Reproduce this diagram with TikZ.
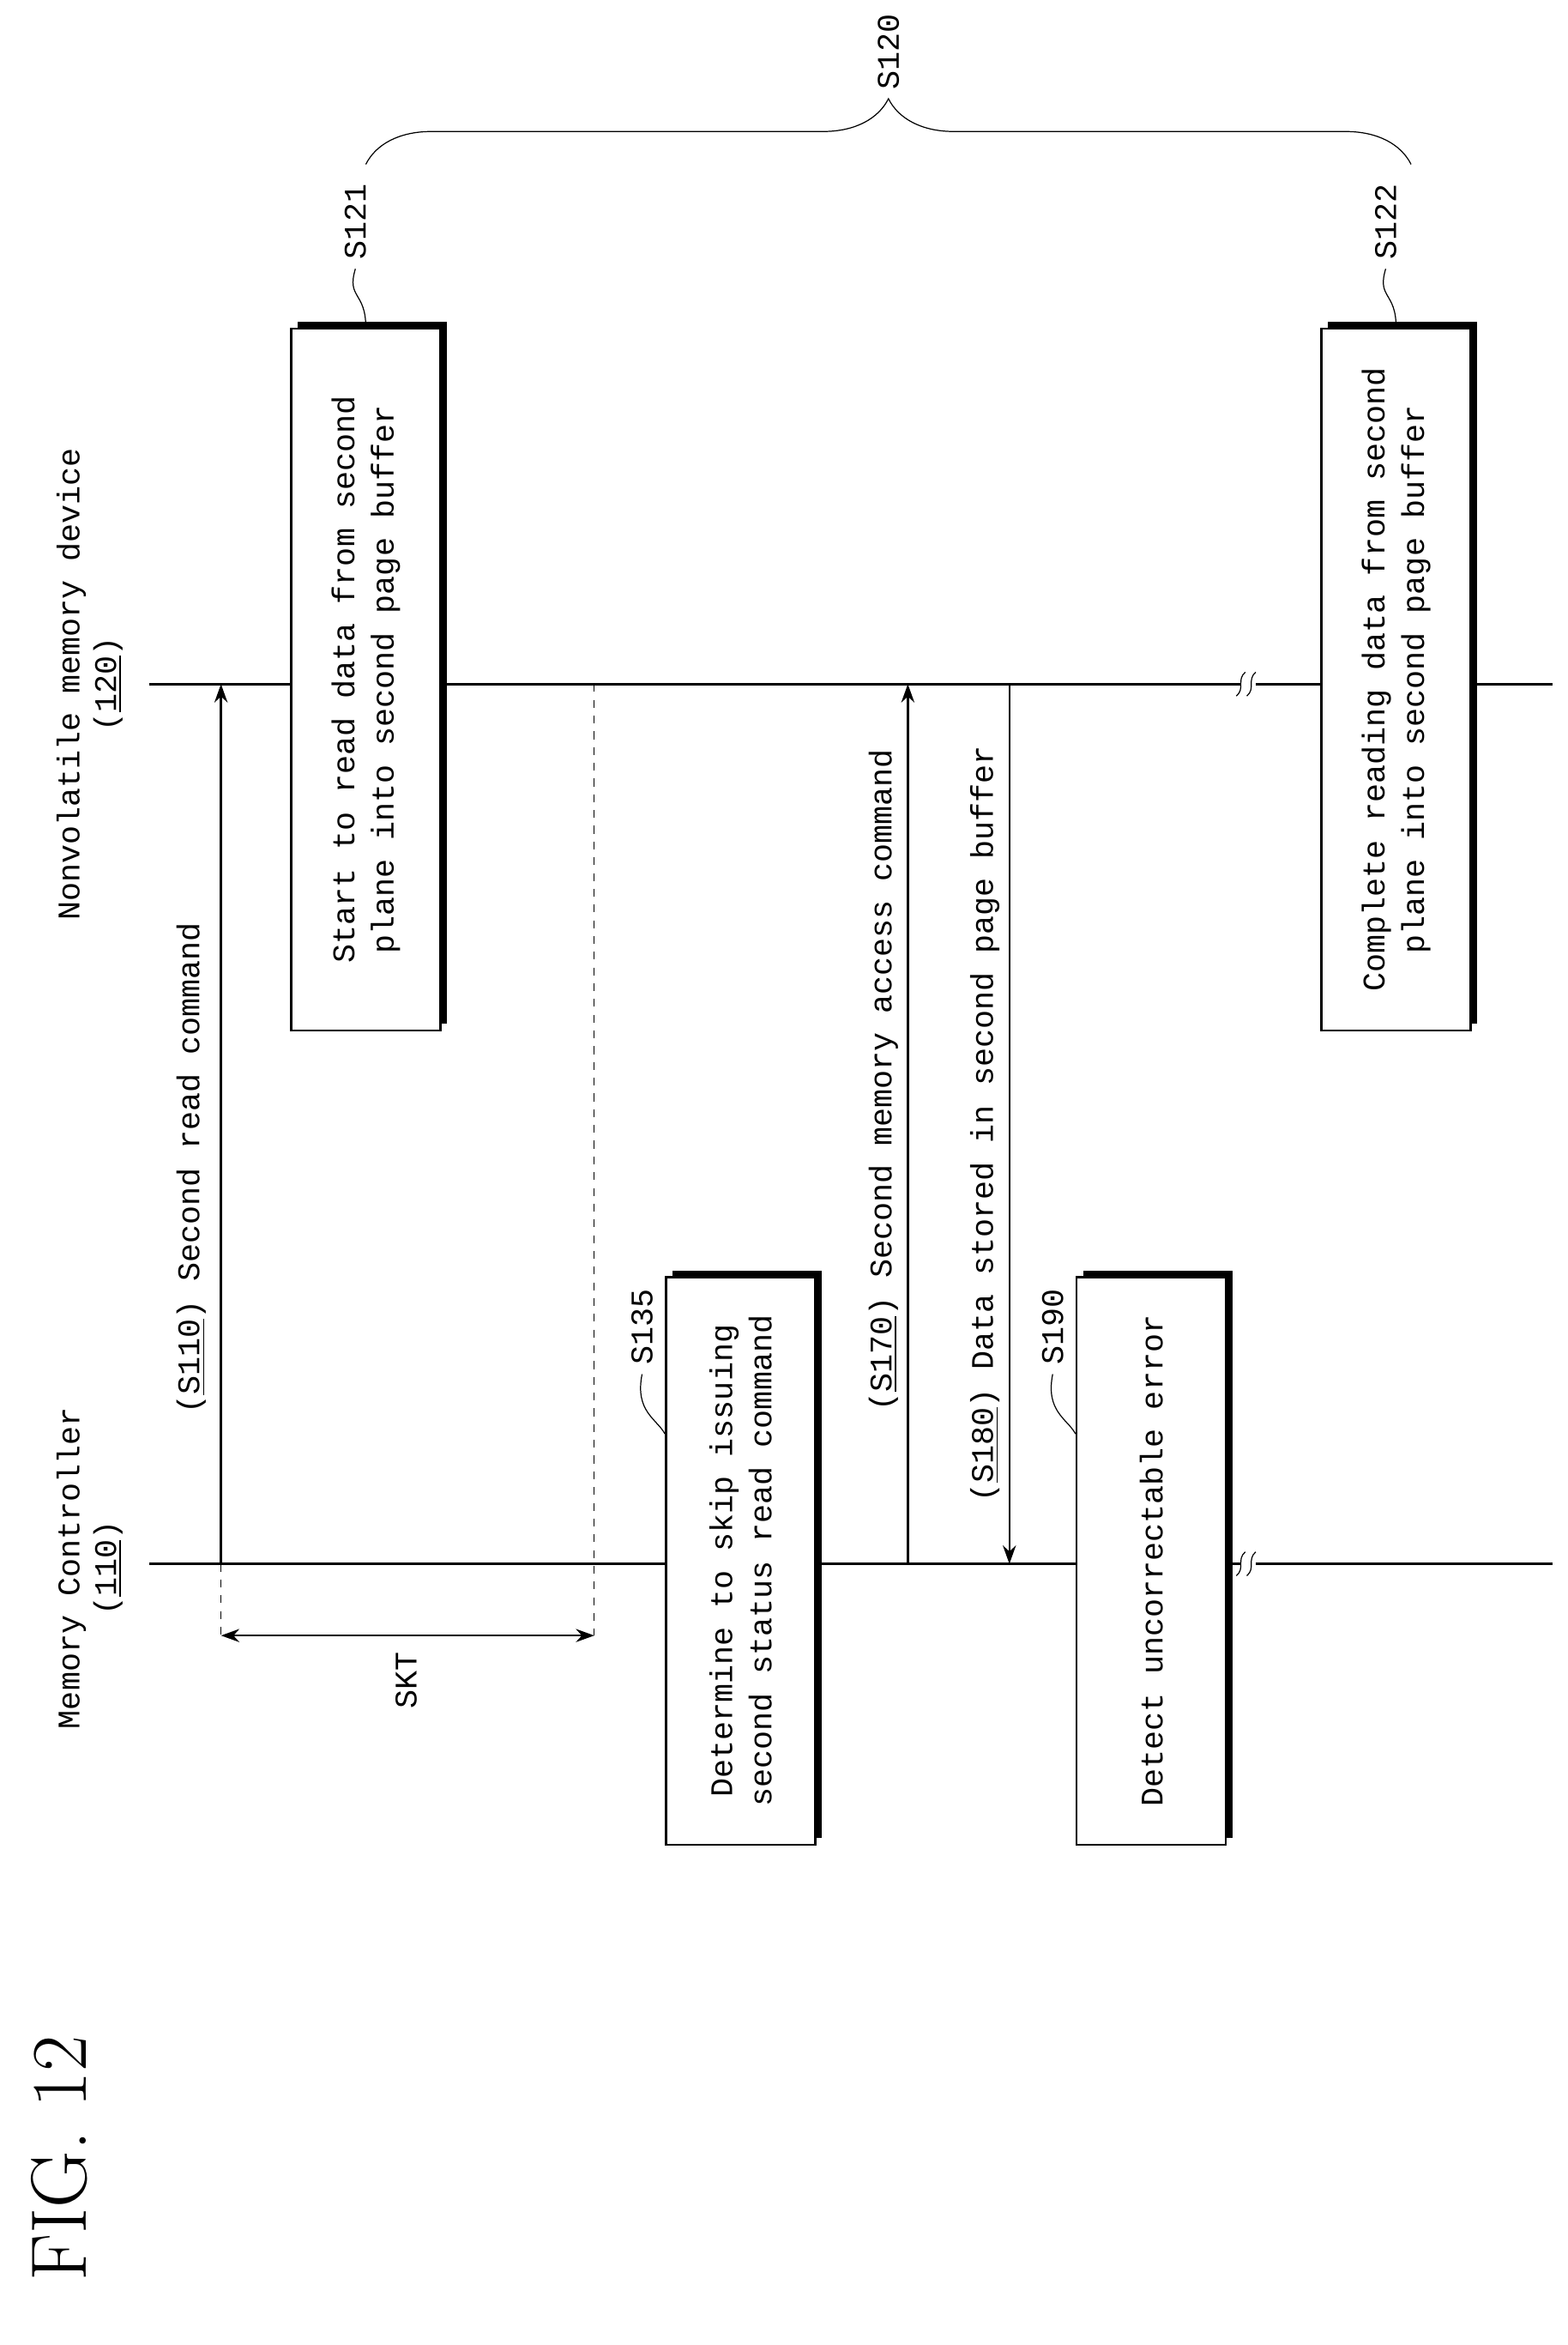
\documentclass[tikz,border=0pt]{standalone}
\usepackage{fontspec}
\setmonofont{Liberation Mono}
\usetikzlibrary{arrows.meta,shadows,decorations.pathreplacing}

\begin{document}
\begin{tikzpicture}[x=0.02cm,y=-0.02cm,
			lbl/.style={rotate=90,font=\ttfamily\fontsize{12}{14}\selectfont},
			stepbox/.style={draw,thick,fill=white,rotate=90,align=center,
				minimum width=9.4cm,minimum height=2cm,inner sep=0pt,
				font=\ttfamily\fontsize{12}{15}\selectfont,
				general shadow={fill=black,shadow xshift=0.9mm,shadow yshift=0.9mm}},
			msg/.style={thick,-{Stealth[length=7pt,width=5pt]}},
			tag/.style={thin}]
			\useasboundingbox (0,0) rectangle (1050,1570);

			% lifelines
			\coordinate (mcS) at (100,1047); \coordinate (mcE) at (1040,1047);
			\coordinate (nvS) at (100,458); \coordinate (nvE) at (1040,458);
			\draw[thick] (mcS) -- (mcE);
			\draw[thick] (nvS) -- (nvE);
			\foreach \yy in {458,1047} {
				\fill[white] (831,\yy-8) rectangle (841,\yy+8);
				\draw (828,\yy+8) .. controls (834,\yy+3) and (828,\yy-3) .. (834,\yy-8);
				\draw (835,\yy+8) .. controls (841,\yy+3) and (835,\yy-3) .. (841,\yy-8);
			}
			\node[lbl,align=center] (mc) at (60,1050) {Memory Controller\\(\underline{110})};
			\node[lbl,align=center] (nv) at (60,458) {Nonvolatile memory device\\(\underline{120})};

			% messages
			\coordinate (a1) at (148,1047); \coordinate (b1) at (148,458);
			\draw[msg] (a1) -- (b1) node[lbl,midway,above,yshift=2pt,pos=0.45] {(\underline{S110}) Second read command};
			\coordinate (a2) at (608,1047); \coordinate (b2) at (608,458);
			\draw[msg] (a2) -- (b2) node[lbl,above,pos=0.55] {(\underline{S170}) Second memory access command};
			\coordinate (a3) at (676,458); \coordinate (b3) at (676,1047);
			\draw[msg] (a3) -- (b3) node[lbl,above,pos=0.5] {(\underline{S180}) Data stored in second page buffer};

			% SKT
			\coordinate (d1) at (148,1095); \coordinate (d2) at (398,1095);
			\coordinate (d3) at (398,458);
			\draw[dashed] (a1) -- (d1);
			\draw[dashed] (d3) -- (d2);
			\draw[thick,{Stealth[length=7pt,width=5pt]}-{Stealth[length=7pt,width=5pt]}] (d1) -- (d2);
			\node[lbl] (skt) at (272,1125) {SKT};

			% boxes
			\node[stepbox] (s121) at (245,455) {Start to read data from second\\plane into second page buffer};
			\node[stepbox] (s122) at (935,455) {Complete reading data from second\\plane into second page buffer};
			\node[stepbox,minimum width=7.6cm] (s135) at (496,1045) {Determine to skip issuing\\second status read command};
			\node[stepbox,minimum width=7.6cm] (s190) at (771,1045) {Detect uncorrectable error};

			% tags
			\draw[tag] (s121.east) .. controls (245,195) and (232,200) .. (238,180);
			\node[lbl,anchor=west] at (238,180) {S121};
			\draw[tag] (s122.east) .. controls (935,195) and (922,200) .. (928,180);
			\node[lbl,anchor=west] at (928,180) {S122};
			\draw[tag] (s135.north) ++(0,-85) .. controls (440,950) and (425,945) .. (430,920);
			\node[lbl,anchor=west] at (430,920) {S135};
			\draw[tag] (s190.north) ++(0,-85) .. controls (715,950) and (700,945) .. (705,920);
			\node[lbl,anchor=west] at (705,920) {S190};

			% S120 brace
			\coordinate (br1) at (245,110); \coordinate (br2) at (945,110);
			\draw[decorate,decoration={brace,amplitude=25pt}] (br1) -- (br2);
			\node[lbl] (s120) at (595,35) {S120};

			\node[rotate=90,font=\rmfamily\fontsize{30}{32}\selectfont] (fig) at (40,1445) {FIG.~12};
		\end{tikzpicture}
\end{document}
